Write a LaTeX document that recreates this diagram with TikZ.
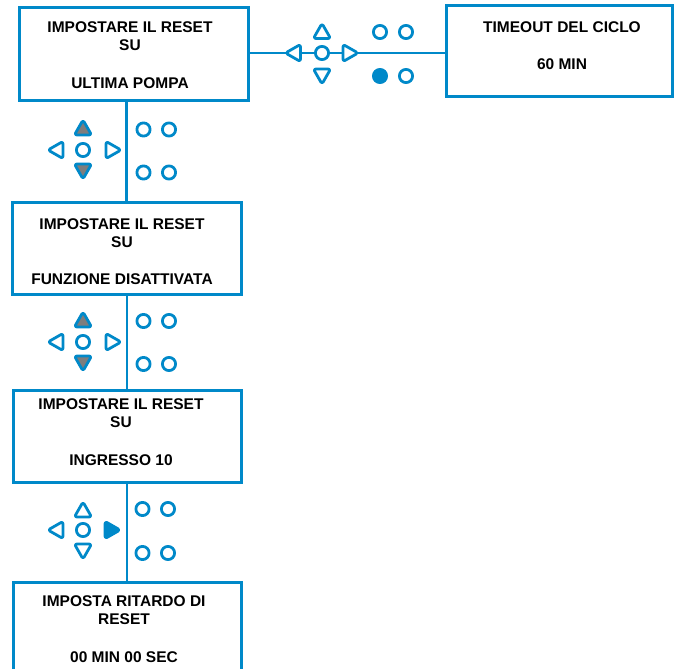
\documentclass[tikz,border=0pt]{standalone}
\usepackage{fontspec}
\setmainfont{Liberation Sans}
\definecolor{bl}{RGB}{0,137,201}
\definecolor{gr}{RGB}{125,125,125}
\tikzset{
  box/.style={draw=bl, line width=3pt, fill=white, inner sep=0pt, outer sep=0pt},
  txt/.style={font=\bfseries\fontsize{15.5}{18}\selectfont, align=center, inner sep=0pt},
  conn/.style={draw=bl, line width=2.6pt},
  ic/.style={draw=bl, line width=2.8pt, fill=white, rounded corners=2.5pt, line join=round},
  icg/.style={ic, fill=gr},
  icb/.style={ic, fill=bl},
}
% triangle: center x, center y, rotation, style
\newcommand\mytri[4]{\path[#4,shift={(#1,#2)},rotate=#3] (0,7) -- (8.6,7) -- (0,-8) -- (-8.6,7) -- cycle;}
\newcommand\mycirc[3]{\path[#3] (#1,#2) circle[radius=6.6pt];}
\begin{document}
\begin{tikzpicture}[x=1pt,y=-1pt]
\useasboundingbox (0,0) rectangle (675,669);
% boxes
\node[box, minimum width=229pt, minimum height=92pt] (b1) at (133.5,54) {};
\node[box, minimum width=226pt, minimum height=91pt] (bt) at (559,51.5) {};
\node[box, minimum width=229pt, minimum height=92pt] (b2) at (126.5,248) {};
\node[box, minimum width=228pt, minimum height=92pt] (b3) at (127,436) {};
\node[box, minimum width=228pt, minimum height=98pt] (b4) at (127,631) {};
% texts
\node[txt] (t1) at (130,55.5) {IMPOSTARE IL RESET\\SU\\[20pt]ULTIMA POMPA};
\node[txt] (tt) at (562,45.5) {TIMEOUT DEL CICLO\\[19pt]60 MIN};
\node[txt] (t2) at (122,251.5) {IMPOSTARE IL RESET\\SU\\[19pt]FUNZIONE DISATTIVATA};
\node[txt] (t3) at (121,432.5) {IMPOSTARE IL RESET\\SU\\[20pt]INGRESSO 10};
\node[txt] (t4) at (124,629) {IMPOSTA RITARDO DI\\RESET\\[20pt]00 MIN 00 SEC};
% connectors
\draw[conn] (b1.east |- 0,53) -- (bt.west |- 0,53);
\draw[conn] (b2.north) -- (b2.north |- b1.south);
\draw[conn] (b3.north) -- (b3.north |- b2.south);
\draw[conn] (b4.north) -- (b4.north |- b3.south);
% top icons
\mytri{322}{31.5}{0}{ic}
\mytri{322}{76}{180}{ic}
\mytri{293.5}{53}{90}{ic}
\mytri{350}{53}{-90}{ic}
\mycirc{322}{53}{ic}
\mycirc{380}{32}{ic}
\mycirc{406}{32}{ic}
\mycirc{380}{76}{icb}
\mycirc{406}{76}{ic}
% icons 1
\mytri{83}{128}{0}{icg}
\mytri{83}{171}{180}{icg}
\mytri{56}{150}{90}{ic}
\mytri{113}{150}{-90}{ic}
\mycirc{83}{150}{ic}
\mycirc{143.5}{129.5}{ic}
\mycirc{169}{129.5}{ic}
\mycirc{143.5}{172.5}{ic}
\mycirc{169}{172.5}{ic}
% icons 2
\mytri{83}{320}{0}{icg}
\mytri{83}{363}{180}{icg}
\mytri{56}{342}{90}{ic}
\mytri{113}{342}{-90}{ic}
\mycirc{83}{342}{ic}
\mycirc{143.5}{321}{ic}
\mycirc{169}{321}{ic}
\mycirc{143.5}{364}{ic}
\mycirc{169}{364}{ic}
% icons 3
\mytri{83}{510}{0}{ic}
\mytri{83}{551}{180}{ic}
\mytri{56}{530}{90}{ic}
\mytri{112}{530}{-90}{icb}
\mycirc{83}{530}{ic}
\mycirc{142.5}{509}{ic}
\mycirc{168}{509}{ic}
\mycirc{142.5}{553}{ic}
\mycirc{168}{553}{ic}
\end{tikzpicture}
\end{document}
